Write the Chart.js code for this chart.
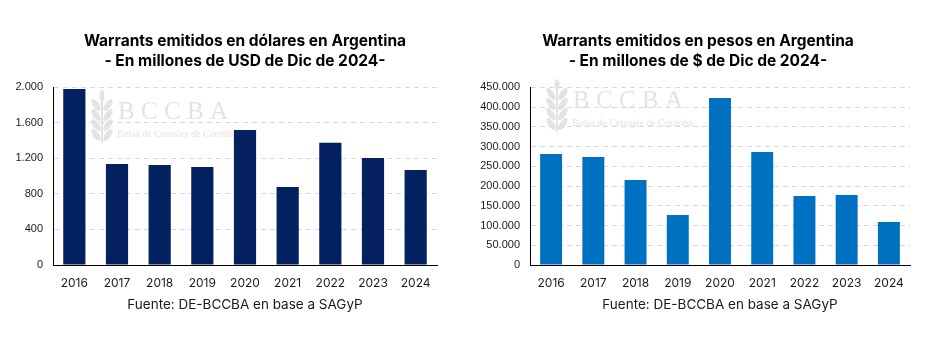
<!DOCTYPE html>
<html>
<head>
<meta charset="utf-8">
<script src="https://cdn.jsdelivr.net/npm/chart.js@4/dist/chart.umd.min.js"></script>
<style>
  html, body { margin: 0; padding: 0; background: #ffffff; width: 942px; height: 345px; overflow: hidden; }
  .box { position: absolute; top: 0; height: 345px; }
  #b1 { left: 0; width: 470px; }
  #b2 { left: 470px; width: 472px; }
</style>
</head>
<body>
<div class="box" id="b1"><canvas id="c1"></canvas></div>
<div class="box" id="b2"><canvas id="c2"></canvas></div>
<script>
// Years on the category axis
const years = ['2016', '2017', '2018', '2019', '2020', '2021', '2022', '2023', '2024'];

// Warrants issued in dollars (million USD, Dec 2024 values)
const usdValues = [1980, 1137, 1126, 1103, 1520, 878, 1377, 1205, 1069];

// Warrants issued in pesos (million $, Dec 2024 values)
const arsValues = [281000, 273500, 215300, 126600, 423000, 286200, 174800, 177300, 108900];

// Value-axis ticks
const usdTicks = [0, 400, 800, 1200, 1600, 2000];
const arsTicks = [0, 50000, 100000, 150000, 200000, 250000, 300000, 350000, 400000, 450000];

const titleUsd = ['Warrants emitidos en dólares en Argentina', '- En millones de USD de Dic de 2024-'];
const titleArs = ['Warrants emitidos en pesos en Argentina', '- En millones de $ de Dic de 2024-'];
const sourceText = 'Fuente: DE-BCCBA en base a SAGyP';

// Thousands separator with a dot
function fmt(v) {
  return String(v).replace(/\B(?=(\d{3})+(?!\d))/g, '.');
}

// Faint institutional watermark behind the bars
const watermark = {
  id: 'watermark',
  beforeDraw(chart, args, opts) {
    const ctx = chart.ctx;
    const x = opts.x, y = opts.y;
    ctx.save();
    ctx.fillStyle = '#e3e3e3';
    // wheat ear
    const ix = x - 25, iy = y - 8;
    ctx.fillRect(ix + 8, iy + 4, 2, 44);
    for (let i = 0; i < 4; i++) {
      const yy = iy + 6 + i * 10;
      ctx.beginPath();
      ctx.ellipse(ix + 3, yy + 4, 3, 7, -0.6, 0, Math.PI * 2);
      ctx.fill();
      ctx.beginPath();
      ctx.ellipse(ix + 15, yy + 4, 3, 7, 0.6, 0, Math.PI * 2);
      ctx.fill();
    }
    ctx.beginPath();
    ctx.ellipse(ix + 9, iy + 1, 2.5, 6, 0, 0, Math.PI * 2);
    ctx.fill();
    // letters
    ctx.font = '25px "Liberation Serif"';
    ctx.textBaseline = 'alphabetic';
    ctx.textAlign = 'left';
    const letters = ['B', 'C', 'C', 'B', 'A'];
    letters.forEach((l, i) => ctx.fillText(l, x + i * 23, y + 16));
    ctx.font = '10px "Liberation Serif"';
    ctx.fillText('Bolsa de Cereales de Córdoba', x - 1, y + 34);
    ctx.restore();
  }
};

// Horizontal nudge of the title block after layout
const titleShift = {
  id: 'titleShift',
  afterLayout(chart, args, opts) {
    const tb = chart.titleBlock;
    if (tb && opts.dx) {
      tb.left += opts.dx;
      tb.right += opts.dx;
    }
  }
};

function makeChart(id, values, color, titleLines, ticks, yMax, axisWidth, padRight, wm, dx) {
  return new Chart(document.getElementById(id), {
    type: 'bar',
    data: {
      labels: years,
      datasets: [{
        data: values,
        backgroundColor: color,
        borderWidth: 0,
        categoryPercentage: 1,
        barPercentage: 0.52
      }]
    },
    plugins: [watermark, titleShift],
    options: {
      responsive: true,
      maintainAspectRatio: false,
      animation: false,
      events: [],
      layout: { padding: { top: 0, right: padRight, bottom: 30, left: 0 } },
      plugins: {
        legend: { display: false },
        tooltip: { enabled: false },
        watermark: wm,
        titleShift: { dx: dx },
        title: {
          display: true,
          fullSize: false,
          text: titleLines,
          color: '#000000',
          font: { family: 'Inter', size: 15.5, weight: 'bold', lineHeight: 1.3 },
          padding: { top: 31, bottom: 16 }
        }
      },
      scales: {
        x: {
          grid: { display: false, drawTicks: false },
          border: { display: true, color: '#000000', width: 1 },
          ticks: { color: '#1a1a1a', font: { family: 'Inter', size: 12 }, padding: 11 },
          title: {
            display: true,
            text: sourceText,
            color: '#1a1a1a',
            font: { family: 'Inter', size: 13.5 },
            padding: { top: 0, bottom: 2 }
          },
          afterFit(scale) { scale.height = 50; }
        },
        y: {
          min: 0,
          max: yMax,
          grid: {
            drawTicks: false,
            lineWidth: 1,
            color: (ctx) => (ctx.tick && ctx.tick.value === 0) ? 'rgba(0,0,0,0)' : '#d9d9d9'
          },
          border: { display: true, color: '#000000', width: 1, dash: [5, 4] },
          ticks: {
            color: '#1a1a1a',
            font: { family: 'Liberation Sans', size: 11 },
            padding: 10,
            callback: (v) => fmt(v)
          },
          afterBuildTicks(scale) { scale.ticks = ticks.map(v => ({ value: v })); },
          afterFit(scale) { scale.width = axisWidth; }
        }
      }
    }
  });
}

makeChart('c1', usdValues, '#03215f', titleUsd, usdTicks, 2000, 53, 33, { x: 118, y: 103 }, 0);
makeChart('c2', arsValues, '#0070c0', titleArs, arsTicks, 450000, 60, 32, { x: 103, y: 92 }, -22);
</script>
</body>
</html>
